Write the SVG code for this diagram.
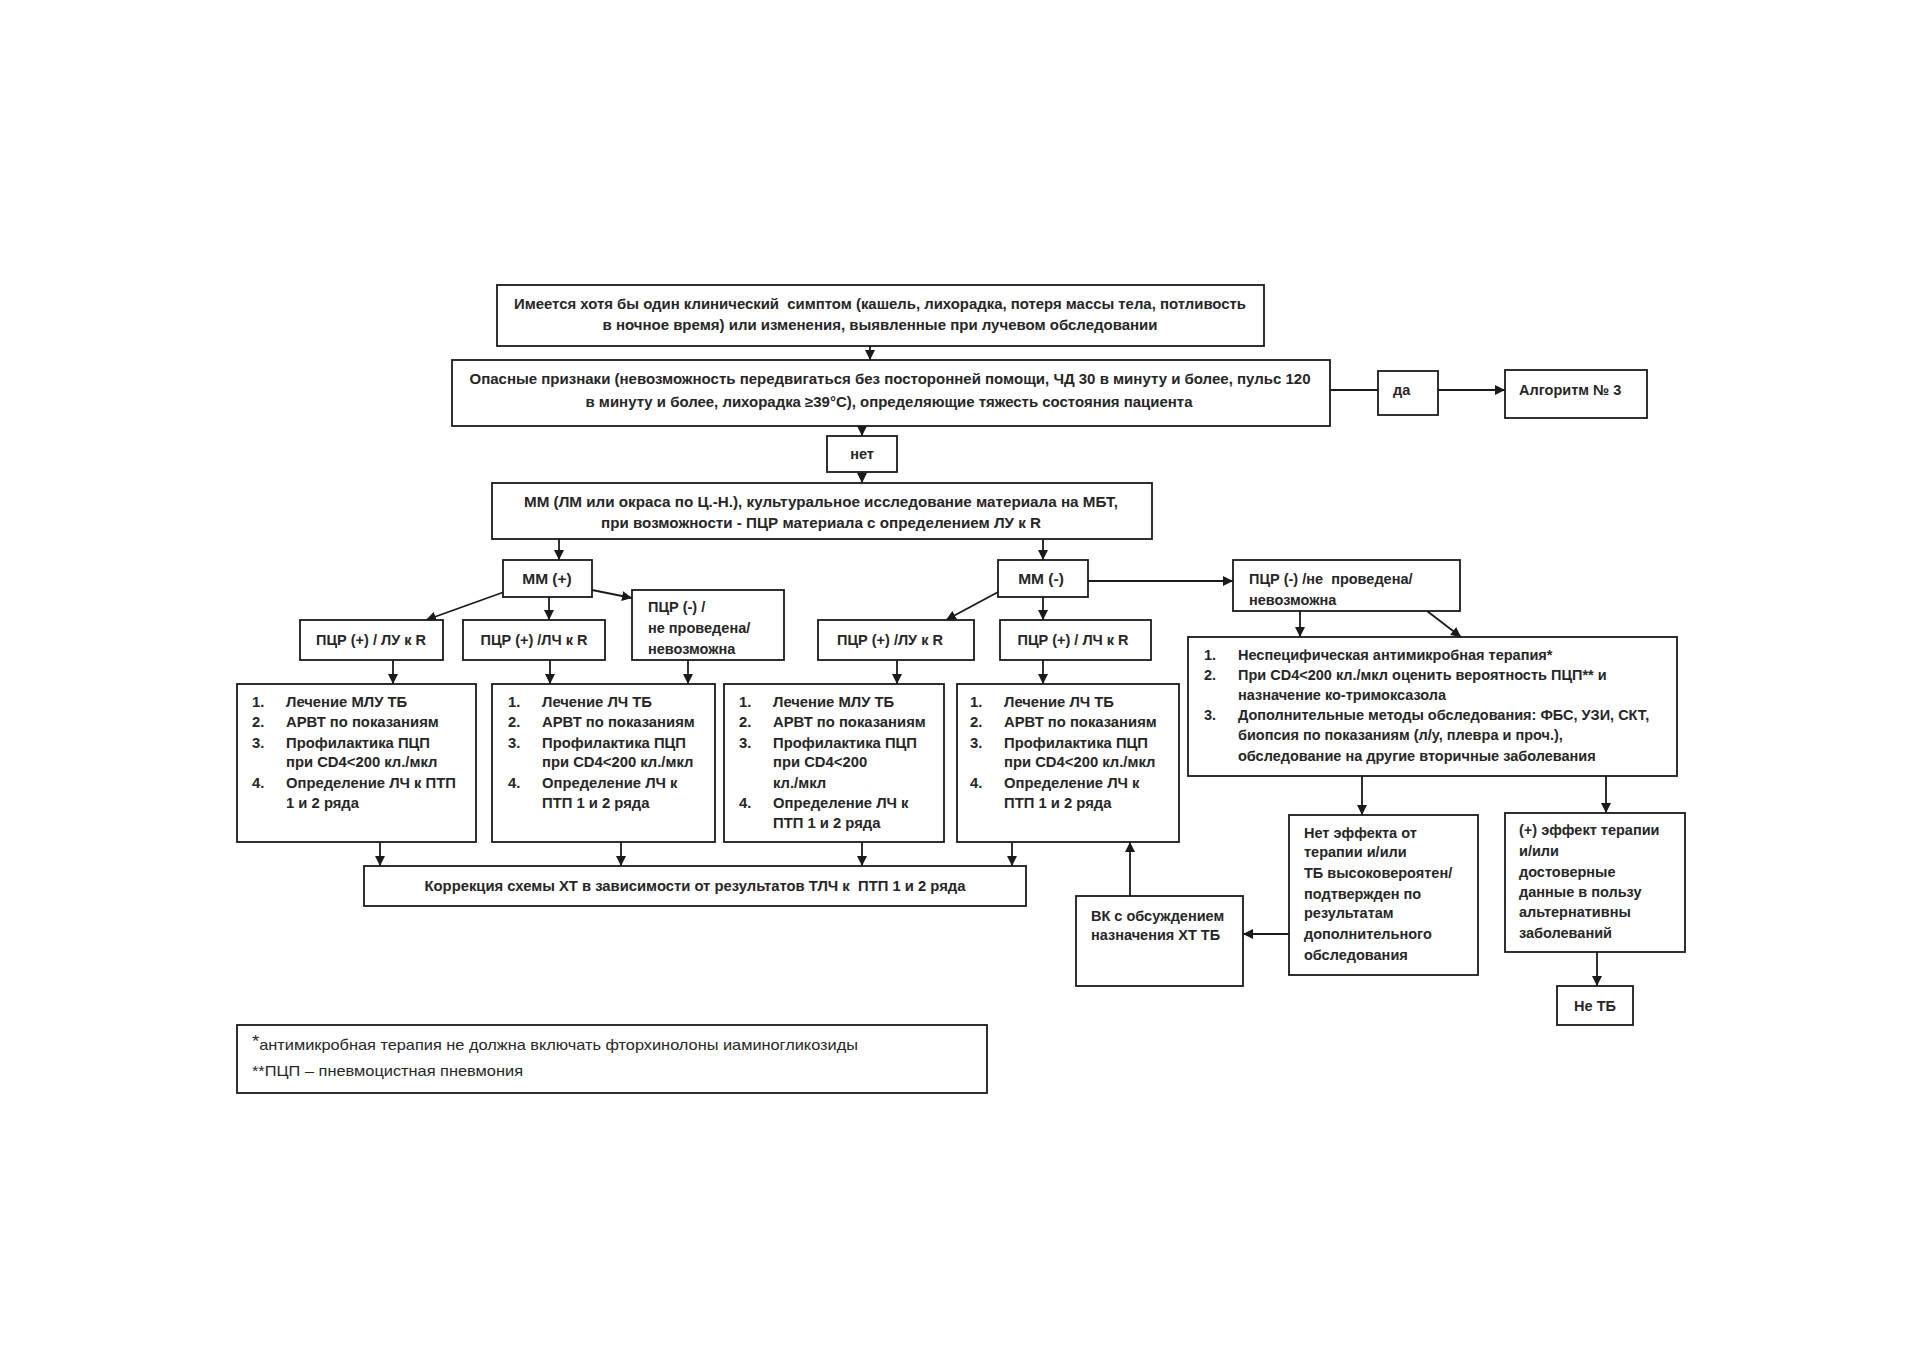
<svg xmlns="http://www.w3.org/2000/svg" width="1909" height="1350" viewBox="0 0 1909 1350">
<style>
.b{fill:#fff;stroke:#1a1a1a;stroke-width:1.8}
text{font-family:"Liberation Sans",Arial,sans-serif;fill:#262626;font-size:14.5px;font-weight:bold}
.l{font-size:14.8px}
.c{text-anchor:middle}
.h{font-size:15.5px}
.f{font-weight:normal;font-size:15px}
.e{stroke:#1a1a1a;stroke-width:1.8;fill:none}
</style>
<defs>
<marker id="ar" viewBox="0 0 10 10" refX="10" refY="5" markerWidth="10" markerHeight="10" markerUnits="userSpaceOnUse" orient="auto">
<path d="M0,0 L10,5 L0,10 z" fill="#1a1a1a"/>
</marker>
</defs>
<rect width="1909" height="1350" fill="#fff"/>

<g id="edges">
<path class="e" d="M870,346 V360" marker-end="url(#ar)"/>
<path class="e" d="M1330,390 H1378"/>
<path class="e" d="M1438,390 H1505" marker-end="url(#ar)"/>
<path class="e" d="M862,426 V436" marker-end="url(#ar)"/>
<path class="e" d="M862,472 V483" marker-end="url(#ar)"/>
<path class="e" d="M559,539 V560" marker-end="url(#ar)"/>
<path class="e" d="M1043,539 V560" marker-end="url(#ar)"/>
<path class="e" d="M504,592 L426,620" marker-end="url(#ar)"/>
<path class="e" d="M549,597 V620" marker-end="url(#ar)"/>
<path class="e" d="M592,590 L632,598" marker-end="url(#ar)"/>
<path class="e" d="M1000,591 L946,620" marker-end="url(#ar)"/>
<path class="e" d="M1043,597 V620" marker-end="url(#ar)"/>
<path class="e" d="M1088,581 H1233" marker-end="url(#ar)"/>
<path class="e" d="M393,660 V684" marker-end="url(#ar)"/>
<path class="e" d="M550,660 V684" marker-end="url(#ar)"/>
<path class="e" d="M688,660 V684" marker-end="url(#ar)"/>
<path class="e" d="M897,660 V684" marker-end="url(#ar)"/>
<path class="e" d="M1043,660 V684" marker-end="url(#ar)"/>
<path class="e" d="M1300,611 V637" marker-end="url(#ar)"/>
<path class="e" d="M1427,611 L1461,637" marker-end="url(#ar)"/>
<path class="e" d="M1362,776 V815" marker-end="url(#ar)"/>
<path class="e" d="M1606,776 V813" marker-end="url(#ar)"/>
<path class="e" d="M1289,934 H1243" marker-end="url(#ar)"/>
<path class="e" d="M1130,896 V842" marker-end="url(#ar)"/>
<path class="e" d="M1597,952 V986" marker-end="url(#ar)"/>
<path class="e" d="M380,842 V866" marker-end="url(#ar)"/>
<path class="e" d="M621,842 V866" marker-end="url(#ar)"/>
<path class="e" d="M862,842 V866" marker-end="url(#ar)"/>
<path class="e" d="M1012,842 V866" marker-end="url(#ar)"/>
</g>

<g id="n_symptom">
<rect class="b" x="497" y="285" width="767" height="61"/>
<text class="c" x="880" y="309" textLength="732" lengthAdjust="spacingAndGlyphs">Имеется хотя бы один клинический&#160; симптом (кашель, лихорадка, потеря массы тела, потливость</text>
<text class="c" x="880" y="330" textLength="555" lengthAdjust="spacingAndGlyphs">в ночное время) или изменения, выявленные при лучевом обследовании</text>
</g>

<g id="n_danger">
<rect class="b" x="452" y="360" width="878" height="66"/>
<text class="c" x="890" y="384" textLength="841" lengthAdjust="spacingAndGlyphs">Опасные признаки (невозможность передвигаться без посторонней помощи, ЧД 30 в минуту и более, пульс 120</text>
<text class="c" x="889" y="407" textLength="607" lengthAdjust="spacingAndGlyphs">в минуту и более, лихорадка ≥39°С), определяющие тяжесть состояния пациента</text>
</g>

<g id="n_yes">
<rect class="b" x="1378" y="371" width="60" height="44"/>
<text x="1393" y="395">да</text>
</g>

<g id="n_alg3">
<rect class="b" x="1505" y="370" width="142" height="48"/>
<text x="1519" y="395">Алгоритм № 3</text>
</g>

<g id="n_no">
<rect class="b" x="827" y="436" width="70" height="36"/>
<text class="c" x="862" y="459">нет</text>
</g>

<g id="n_mm">
<rect class="b" x="492" y="483" width="660" height="56"/>
<text class="c" x="821" y="507" textLength="594" lengthAdjust="spacingAndGlyphs">ММ (ЛМ или окраса по Ц.-Н.), культуральное исследование материала на МБТ,</text>
<text class="c" x="821" y="528" textLength="440" lengthAdjust="spacingAndGlyphs">при возможности - ПЦР материала с определением ЛУ к R</text>
</g>

<g id="n_mmpos">
<rect class="b" x="503" y="560" width="89" height="37"/>
<text class="c h" x="547" y="584">ММ (+)</text>
</g>

<g id="n_mmneg">
<rect class="b" x="998" y="560" width="90" height="37"/>
<text class="c h" x="1041" y="584">ММ (-)</text>
</g>

<g id="n_p1">
<rect class="b" x="300" y="620" width="143" height="40"/>
<text class="c" x="371" y="645">ПЦР (+) / ЛУ к R</text>
</g>

<g id="n_p2">
<rect class="b" x="463" y="620" width="142" height="40"/>
<text class="c" x="534" y="645">ПЦР (+) /ЛЧ к R</text>
</g>

<g id="n_p3">
<rect class="b" x="632" y="590" width="152" height="70"/>
<text x="648" y="612">ПЦР (-) /</text>
<text x="648" y="633">не проведена/</text>
<text x="648" y="654">невозможна</text>
</g>

<g id="n_p4">
<rect class="b" x="818" y="620" width="156" height="40"/>
<text class="c" x="890" y="645">ПЦР (+) /ЛУ к R</text>
</g>

<g id="n_p5">
<rect class="b" x="1000" y="620" width="151" height="40"/>
<text class="c" x="1073" y="645">ПЦР (+) / ЛЧ к R</text>
</g>

<g id="n_p6">
<rect class="b" x="1233" y="560" width="227" height="51"/>
<text x="1249" y="584">ПЦР (-) /не&#160; проведена/</text>
<text x="1249" y="605">невозможна</text>
</g>

<g id="n_t1" class="l">
<rect class="b" x="237" y="684" width="239" height="158"/>
<text class="l" x="252" y="707">1.</text><text class="l" x="286" y="707">Лечение МЛУ ТБ</text>
<text class="l" x="252" y="727">2.</text><text class="l" x="286" y="727">АРВТ по показаниям</text>
<text class="l" x="252" y="748">3.</text><text class="l" x="286" y="748">Профилактика ПЦП</text>
<text class="l" x="286" y="767">при CD4&lt;200 кл./мкл</text>
<text class="l" x="252" y="788">4.</text><text class="l" x="286" y="788">Определение ЛЧ к ПТП</text>
<text class="l" x="286" y="808">1 и 2 ряда</text>
</g>

<g id="n_t2">
<rect class="b" x="492" y="684" width="223" height="158"/>
<text class="l" x="508" y="707">1.</text><text class="l" x="542" y="707">Лечение ЛЧ ТБ</text>
<text class="l" x="508" y="727">2.</text><text class="l" x="542" y="727">АРВТ по показаниям</text>
<text class="l" x="508" y="748">3.</text><text class="l" x="542" y="748">Профилактика ПЦП</text>
<text class="l" x="542" y="767">при CD4&lt;200 кл./мкл</text>
<text class="l" x="508" y="788">4.</text><text class="l" x="542" y="788">Определение ЛЧ к</text>
<text class="l" x="542" y="808">ПТП 1 и 2 ряда</text>
</g>

<g id="n_t3">
<rect class="b" x="724" y="684" width="220" height="158"/>
<text class="l" x="739" y="707">1.</text><text class="l" x="773" y="707">Лечение МЛУ ТБ</text>
<text class="l" x="739" y="727">2.</text><text class="l" x="773" y="727">АРВТ по показаниям</text>
<text class="l" x="739" y="748">3.</text><text class="l" x="773" y="748">Профилактика ПЦП</text>
<text class="l" x="773" y="767">при CD4&lt;200</text>
<text class="l" x="773" y="788">кл./мкл</text>
<text class="l" x="739" y="808">4.</text><text class="l" x="773" y="808">Определение ЛЧ к</text>
<text class="l" x="773" y="828">ПТП 1 и 2 ряда</text>
</g>

<g id="n_t4">
<rect class="b" x="957" y="684" width="222" height="158"/>
<text class="l" x="970" y="707">1.</text><text class="l" x="1004" y="707">Лечение ЛЧ ТБ</text>
<text class="l" x="970" y="727">2.</text><text class="l" x="1004" y="727">АРВТ по показаниям</text>
<text class="l" x="970" y="748">3.</text><text class="l" x="1004" y="748">Профилактика ПЦП</text>
<text class="l" x="1004" y="767">при CD4&lt;200 кл./мкл</text>
<text class="l" x="970" y="788">4.</text><text class="l" x="1004" y="788">Определение ЛЧ к</text>
<text class="l" x="1004" y="808">ПТП 1 и 2 ряда</text>
</g>

<g id="n_list">
<rect class="b" x="1188" y="637" width="489" height="139"/>
<text x="1204" y="660">1.</text><text x="1238" y="660">Неспецифическая антимикробная терапия*</text>
<text x="1204" y="680">2.</text><text x="1238" y="680">При CD4&lt;200 кл./мкл оценить вероятность ПЦП** и</text>
<text x="1238" y="700">назначение ко-тримоксазола</text>
<text x="1204" y="720">3.</text><text x="1238" y="720">Дополнительные методы обследования: ФБС, УЗИ, СКТ,</text>
<text x="1238" y="740">биопсия по показаниям (л/у, плевра и проч.),</text>
<text x="1238" y="761">обследование на другие вторичные заболевания</text>
</g>

<g id="n_corr">
<rect class="b" x="364" y="866" width="662" height="40"/>
<text class="c" x="695" y="891" textLength="541" lengthAdjust="spacingAndGlyphs">Коррекция схемы ХТ в зависимости от результатов ТЛЧ к&#160; ПТП 1 и 2 ряда</text>
</g>

<g id="n_vk">
<rect class="b" x="1076" y="896" width="167" height="90"/>
<text x="1091" y="921">ВК с обсуждением</text>
<text x="1091" y="940">назначения ХТ ТБ</text>
</g>

<g id="n_noeff">
<rect class="b" x="1289" y="815" width="189" height="160"/>
<text x="1304" y="838">Нет эффекта от</text>
<text x="1304" y="857">терапии и/или</text>
<text x="1304" y="878">ТБ высоковероятен/</text>
<text x="1304" y="899">подтвержден по</text>
<text x="1304" y="918">результатам</text>
<text x="1304" y="939">дополнительного</text>
<text x="1304" y="960">обследования</text>
</g>

<g id="n_poseff">
<rect class="b" x="1505" y="813" width="180" height="139"/>
<text x="1519" y="835">(+) эффект терапии</text>
<text x="1519" y="856">и/или</text>
<text x="1519" y="877">достоверные</text>
<text x="1519" y="897">данные в пользу</text>
<text x="1519" y="917">альтернативны</text>
<text x="1519" y="938">заболеваний</text>
</g>

<g id="n_nottb">
<rect class="b" x="1557" y="986" width="76" height="39"/>
<text class="c" x="1595" y="1011">Не ТБ</text>
</g>

<g id="n_foot">
<rect class="b" x="237" y="1025" width="750" height="68"/>
<text class="f" x="252" y="1050" textLength="606" lengthAdjust="spacingAndGlyphs"><tspan font-size="17" dy="-3">*</tspan><tspan dy="3">антимикробная терапия не должна включать фторхинолоны иаминогликозиды</tspan></text>
<text class="f" x="252" y="1076" textLength="271" lengthAdjust="spacingAndGlyphs">**ПЦП – пневмоцистная пневмония</text>
</g>
</svg>
